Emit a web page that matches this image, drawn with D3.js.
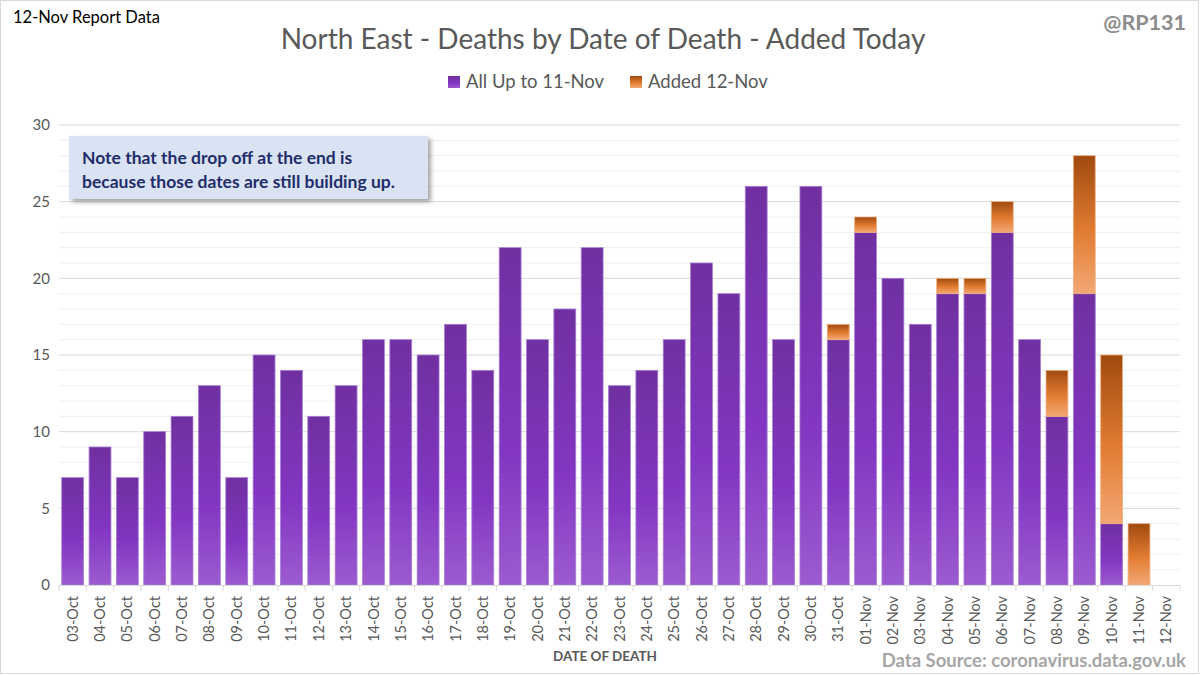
<!DOCTYPE html>
<html><head><meta charset="utf-8">
<script src="https://cdn.jsdelivr.net/npm/d3@7"></script>
<style>body{margin:0;background:#fff;} svg{display:block;font-family:Lato,"Open Sans",sans-serif;}</style>
</head><body>
<svg id="c" width="1200" height="675"></svg>
<script>
const categories = ["03-Oct","04-Oct","05-Oct","06-Oct","07-Oct","08-Oct","09-Oct","10-Oct","11-Oct","12-Oct","13-Oct","14-Oct","15-Oct","16-Oct","17-Oct","18-Oct","19-Oct","20-Oct","21-Oct","22-Oct","23-Oct","24-Oct","25-Oct","26-Oct","27-Oct","28-Oct","29-Oct","30-Oct","31-Oct","01-Nov","02-Nov","03-Nov","04-Nov","05-Nov","06-Nov","07-Nov","08-Nov","09-Nov","10-Nov","11-Nov","12-Nov"];
const upTo11Nov = [7,9,7,10,11,13,7,15,14,11,13,16,16,15,17,14,22,16,18,22,13,14,16,21,19,26,16,26,16,23,20,17,19,19,23,16,11,19,4,0,0];
const added12Nov = [0,0,0,0,0,0,0,0,0,0,0,0,0,0,0,0,0,0,0,0,0,0,0,0,0,0,0,0,1,1,0,0,1,1,2,0,3,9,11,4,0];
const yTicks = [0,5,10,15,20,25,30];
const seriesNames = ["All Up to 11-Nov","Added 12-Nov"];

const svg = d3.select("#c");
const defs = svg.append("defs");
function grad(id, stops){
  const g = defs.append("linearGradient").attr("id",id).attr("x1",0).attr("y1",0).attr("x2",0).attr("y2",1);
  stops.forEach(s=>g.append("stop").attr("offset",s[0]).attr("stop-color",s[1]));
}
grad("gP",[[0,"#7030A0"],[0.6,"#8236C2"],[1,"#9C5BD0"]]);
grad("gO",[[0,"#A04A10"],[0.55,"#E27C32"],[1,"#F2A874"]]);
const sh = defs.append("filter").attr("id","sh").attr("x","-10%").attr("y","-20%").attr("width","130%").attr("height","150%");
sh.append("feDropShadow").attr("dx",3).attr("dy",3).attr("stdDeviation",2).attr("flood-color","#000").attr("flood-opacity",0.35);

// border
svg.append("rect").attr("x",0.5).attr("y",0.5).attr("width",1198).attr("height",673).attr("fill","#fff").attr("stroke","#D9D9D9");

const x = d3.scaleBand().domain(categories).range([59,1180]).paddingInner(0.2).paddingOuter(0.1);
const y = d3.scaleLinear().domain([0,30]).range([585,125]);

// gridlines
const g = svg.append("g");
g.selectAll("line.minor").data(d3.range(0,31).filter(v=>v%5!==0)).join("line")
  .attr("x1",59).attr("x2",1180).attr("y1",d=>y(d)).attr("y2",d=>y(d))
  .attr("stroke","#F0F0F0").attr("stroke-width",1);
g.selectAll("line.major").data(yTicks.slice(1)).join("line")
  .attr("x1",59).attr("x2",1180).attr("y1",d=>y(d)).attr("y2",d=>y(d))
  .attr("stroke","#D9D9D9").attr("stroke-width",1);

// y axis labels
const yAxis = svg.append("g").attr("transform","translate(50,0)")
  .call(d3.axisLeft(y).tickValues(yTicks).tickSize(0).tickPadding(0));
yAxis.select(".domain").remove();
yAxis.selectAll("text").attr("font-size",15).attr("fill","#595959").attr("font-family","Lato,sans-serif");

// bars
const bars = svg.append("g");
bars.selectAll("rect.p").data(categories.map((c,i)=>({c,v:upTo11Nov[i]})).filter(d=>d.v>0)).join("rect")
  .attr("x",d=>x(d.c)).attr("width",x.bandwidth())
  .attr("y",d=>y(d.v)).attr("height",d=>y(0)-y(d.v))
  .attr("fill","url(#gP)").attr("stroke","#A87DD6").attr("stroke-width",0.8);
bars.selectAll("rect.o").data(categories.map((c,i)=>({c,b:upTo11Nov[i],v:added12Nov[i]})).filter(d=>d.v>0)).join("rect")
  .attr("x",d=>x(d.c)).attr("width",x.bandwidth())
  .attr("y",d=>y(d.b+d.v)).attr("height",d=>y(d.b)-y(d.b+d.v))
  .attr("fill","url(#gO)").attr("stroke","#F0B080").attr("stroke-width",0.8);

// x axis
const xAxis = svg.append("g").attr("transform","translate(0,585)")
  .call(d3.axisBottom(x).tickSize(0).tickPadding(0));
xAxis.select(".domain").attr("stroke","#D9D9D9").attr("d","M59,0.5H1180");
xAxis.selectAll("line.sep").data(d3.range(categories.length+1)).join("line")
  .attr("x1",i=>59+i*x.step()).attr("x2",i=>59+i*x.step()).attr("y1",0).attr("y2",6)
  .attr("stroke","#D9D9D9");
xAxis.selectAll(".tick text").attr("transform","rotate(-90)").attr("text-anchor","end")
  .attr("x",-11).attr("y",0).attr("dy","0.35em").attr("font-size",14.5).attr("fill","#595959").attr("font-family","Lato,sans-serif");

// texts
svg.append("text").attr("x",13).attr("y",23).attr("font-size",16.5).attr("fill","#000").text("12-Nov Report Data");
svg.append("text").attr("x",1186).attr("y",30).attr("text-anchor","end").attr("font-size",21.5).attr("font-weight","bold").attr("fill","#8C8C8C").text("@RP131");
svg.append("text").attr("x",603).attr("y",49).attr("text-anchor","middle").attr("font-size",28).attr("fill","#595959").text("North East - Deaths by Date of Death - Added Today");

// legend
const leg = svg.append("g");
leg.append("rect").attr("x",448).attr("y",76).attr("width",12).attr("height",12).attr("fill","url(#gP)");
leg.append("text").attr("x",466).attr("y",88).attr("font-size",18.5).attr("fill","#595959").text(seriesNames[0]);
leg.append("rect").attr("x",630).attr("y",76).attr("width",12).attr("height",12).attr("fill","url(#gO)");
leg.append("text").attr("x",648).attr("y",88).attr("font-size",18.5).attr("fill","#595959").text(seriesNames[1]);

// note
svg.append("rect").attr("x",69).attr("y",136).attr("width",359).attr("height",63).attr("fill","#DAE3F3").attr("filter","url(#sh)");
svg.append("text").attr("x",82).attr("y",164).attr("font-size",17.5).attr("font-weight","bold").attr("fill","#1F2D6B").text("Note that the drop off at the end is");
svg.append("text").attr("x",82).attr("y",188).attr("font-size",17.5).attr("font-weight","bold").attr("fill","#1F2D6B").text("because those dates are still building up.");

svg.append("text").attr("x",605).attr("y",661).attr("text-anchor","middle").attr("font-size",13.5).attr("font-weight","bold").attr("fill","#595959").text("DATE OF DEATH");
svg.append("text").attr("x",1186).attr("y",667).attr("text-anchor","end").attr("font-size",18.5).attr("font-weight","bold").attr("fill","#A6A6A6").text("Data Source: coronavirus.data.gov.uk");
</script>
</body></html>
